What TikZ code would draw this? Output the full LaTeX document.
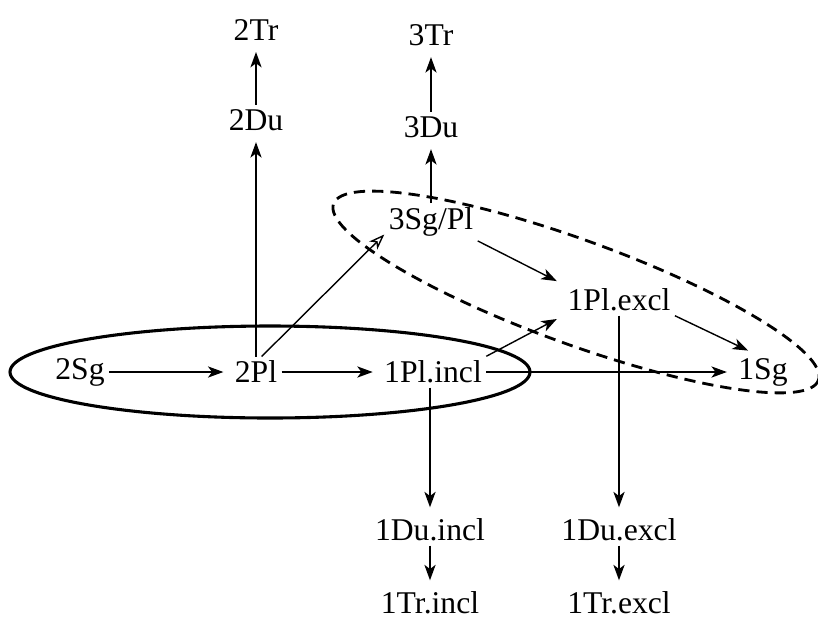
\documentclass[tikz,border=0pt]{standalone}
\usepackage{fontspec}
\setmainfont{Liberation Serif}
\usetikzlibrary{arrows.meta,positioning,calc}
\tikzset{
  formnode/.style={inner sep=3pt,font=\fontsize{22.5}{26}\selectfont},
  formarrow/.style={-{Stealth[length=11pt,width=8pt,inset=3pt]},line width=1pt,shorten >=5pt},
  openarrow/.style={-{Stealth[open,length=11pt,width=8pt,inset=3pt]},line width=1pt},
  groupline/.style={line width=2.2pt},
  subgroupline/.style={line width=2pt,dash pattern=on 8pt off 5pt}
}
\begin{document}
\begin{tikzpicture}[x=0.025cm,y=-0.025cm]
  \useasboundingbox (0,0) rectangle (818,621);
  % groupings
  \draw[groupline] (270,372) ellipse (260 and 46);
  \draw[subgroupline,rotate around={-20:(576,292)}] (576,292) ellipse (258 and 52);
  % forms
  \node[formnode] (2sg) at (80,372) {2Sg};
  \node[formnode] (2pl) at (256,372) {2Pl};
  \node[formnode] (1plincl) at (433,372) {1Pl.incl};
  \node[formnode] (1sg) at (763,372) {1Sg};
  \node[formnode] (2du) at (256,120) {2Du};
  \node[formnode] (2tr) at (256,30) {2Tr};
  \node[formnode] (3sgpl) at (431,222) {3Sg/Pl};
  \node[formnode] (3du) at (431,127) {3Du};
  \node[formnode] (3tr) at (431,35) {3Tr};
  \node[formnode] (1plexcl) at (619,300) {1Pl.excl};
  \node[formnode] (1duincl) at (430,530) {1Du.incl};
  \node[formnode] (1duexcl) at (619,530) {1Du.excl};
  \node[formnode] (1trincl) at (430,603) {1Tr.incl};
  \node[formnode] (1trexcl) at (619,603) {1Tr.excl};
  % connections
  \draw[formarrow] (2sg) -- (2pl);
  \draw[formarrow] (2pl) -- (1plincl);
  \draw[formarrow] (1plincl) -- (1sg);
  \draw[formarrow] (2pl) -- (2du);
  \draw[formarrow] (2du) -- (2tr);
  \draw[openarrow] (2pl.70) -- (3sgpl.195);
  \draw[formarrow] (3sgpl) -- (3du);
  \draw[formarrow] (3du) -- (3tr);
  \draw[formarrow] (3sgpl.south east) -- (1plexcl.north west);
  \draw[formarrow] (1plincl.north east) -- (1plexcl.south west);
  \draw[formarrow] (1plexcl.south east) -- (1sg.115);
  \draw[formarrow] (1plincl.south -| 1duincl) -- (1duincl);
  \draw[formarrow] (1plexcl) -- (1duexcl);
  \draw[formarrow] (1duincl) -- (1trincl);
  \draw[formarrow] (1duexcl) -- (1trexcl);
\end{tikzpicture}
\end{document}
